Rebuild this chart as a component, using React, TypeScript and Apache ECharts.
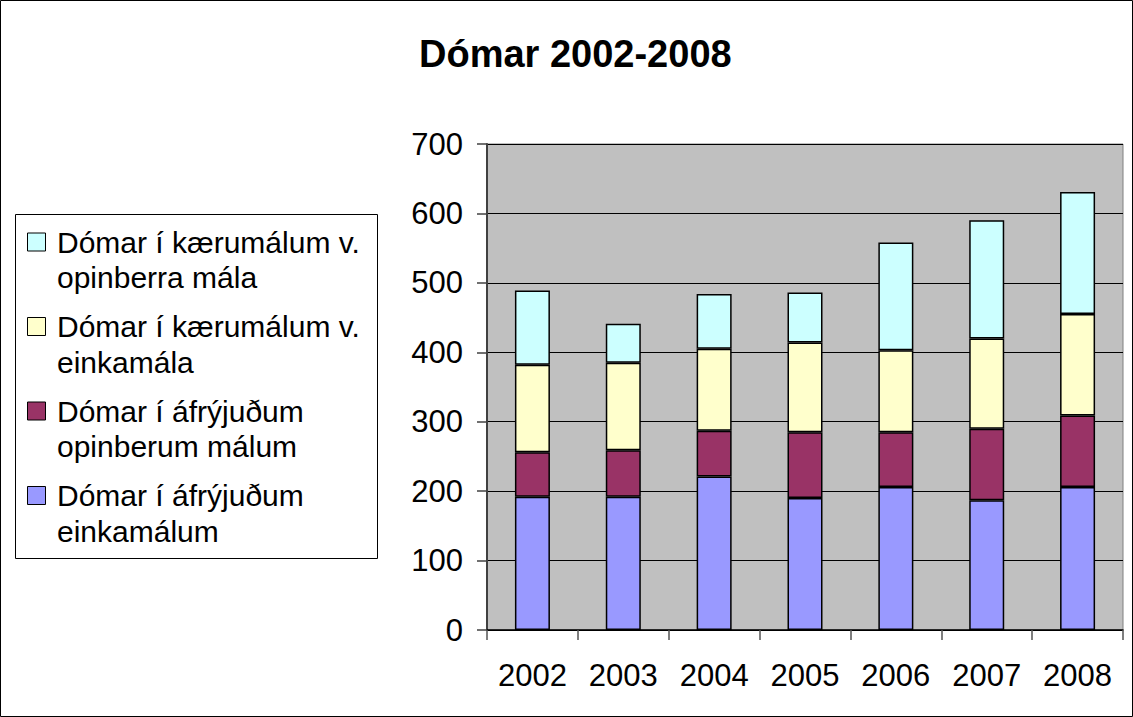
import React, { useEffect, useRef } from "react";
import * as echarts from "echarts";

const years = ["2002", "2003", "2004", "2005", "2006", "2007", "2008"];

const seriesNames = [
  "Dómar í áfrýjuðum einkamálum",
  "Dómar í áfrýjuðum opinberum málum",
  "Dómar í kærumálum v. einkamála",
  "Dómar í kærumálum v. opinberra mála",
];

const legendLabels = [
  ["Dómar í áfrýjuðum", "einkamálum"],
  ["Dómar í áfrýjuðum", "opinberum málum"],
  ["Dómar í kærumálum v.", "einkamála"],
  ["Dómar í kærumálum v.", "opinberra mála"],
];

const seriesColors = ["#9999FF", "#993366", "#FFFFCC", "#CCFFFF"];

const appealedPrivate = [192, 192, 221, 190, 206, 187, 206];
const appealedPublic = [64, 67, 66, 95, 79, 103, 103];
const kaeraPrivate = [126, 126, 118, 129, 118, 130, 146];
const kaeraPublic = [107, 56, 79, 72, 155, 170, 176];

const seriesData = [appealedPrivate, appealedPublic, kaeraPrivate, kaeraPublic];

const titleText = "Dómar 2002-2008";

export default function App() {
  const ref = useRef<HTMLDivElement>(null);

  useEffect(() => {
    if (!ref.current) return;
    const chart = echarts.init(ref.current, null, { renderer: "svg" });
    const font = "Arial, 'Liberation Sans', sans-serif";

    const legendElements: any[] = [
      {
        type: "rect",
        shape: { x: 15.5, y: 214.5, width: 362, height: 344 },
        style: { fill: "#ffffff", stroke: "#000000", lineWidth: 1 },
        z: 10,
      },
    ];
    const order = [3, 2, 1, 0];
    order.forEach((si, i) => {
      const cy = 242 + 84.5 * i;
      legendElements.push({
        type: "rect",
        shape: { x: 27.5, y: cy - 9, width: 18, height: 18 },
        style: { fill: seriesColors[si], stroke: "#000000", lineWidth: 1 },
        z: 11,
      });
      legendLabels[si].forEach((line, li) => {
        legendElements.push({
          type: "text",
          x: 57,
          y: cy + li * 35.6,
          style: {
            text: line,
            fill: "#000000",
            font: `30px ${font}`,
            align: "left",
            verticalAlign: "middle",
          },
          z: 11,
        });
      });
    });

    const option: any = {
      animation: false,
      backgroundColor: "#ffffff",
      title: {
        text: titleText,
        left: 419,
        top: 35,
        padding: 0,
        textStyle: {
          fontFamily: font,
          fontSize: 38,
          fontWeight: "bold",
          color: "#000000",
        },
      },
      grid: {
        left: 487,
        right: 10,
        top: 144,
        bottom: 87,
        show: true,
        backgroundColor: "#C0C0C0",
        borderColor: "#808080",
        borderWidth: 1,
      },
      xAxis: {
        type: "category",
        data: years,
        boundaryGap: true,
        axisLine: { show: true, lineStyle: { color: "#000000", width: 1.5 } },
        axisTick: {
          show: true,
          alignWithLabel: false,
          length: 10,
          lineStyle: { color: "#555555", width: 1.5 },
        },
        axisLabel: {
          margin: 30,
          fontFamily: font,
          fontSize: 31,
          color: "#000000",
        },
        splitLine: { show: false },
      },
      yAxis: {
        type: "value",
        min: 0,
        max: 700,
        interval: 100,
        axisLine: { show: true, lineStyle: { color: "#404040", width: 2 } },
        axisTick: {
          show: true,
          length: 10,
          lineStyle: { color: "#404040", width: 1.5 },
        },
        axisLabel: {
          margin: 24,
          fontFamily: font,
          fontSize: 31,
          color: "#000000",
        },
        splitLine: { show: true, lineStyle: { color: "#000000", width: 1 } },
      },
      series: seriesNames.map((name, i) => ({
        name,
        type: "bar",
        stack: "total",
        barWidth: 35,
        data: seriesData[i],
        itemStyle: {
          color: seriesColors[i],
          borderColor: "#000000",
          borderWidth: 1.5,
        },
      })),
      graphic: [
        {
          type: "rect",
          shape: { x: 0.5, y: 0.5, width: 1132, height: 716 },
          style: { fill: "none", stroke: "#000000", lineWidth: 1 },
          z: 20,
          silent: true,
        },
        ...legendElements,
      ],
    };

    chart.setOption(option);
    return () => {
      chart.dispose();
    };
  }, []);

  return (
    <div
      ref={ref}
      style={{ position: "absolute", left: 0, top: 0, width: 1133, height: 717 }}
    />
  );
}
